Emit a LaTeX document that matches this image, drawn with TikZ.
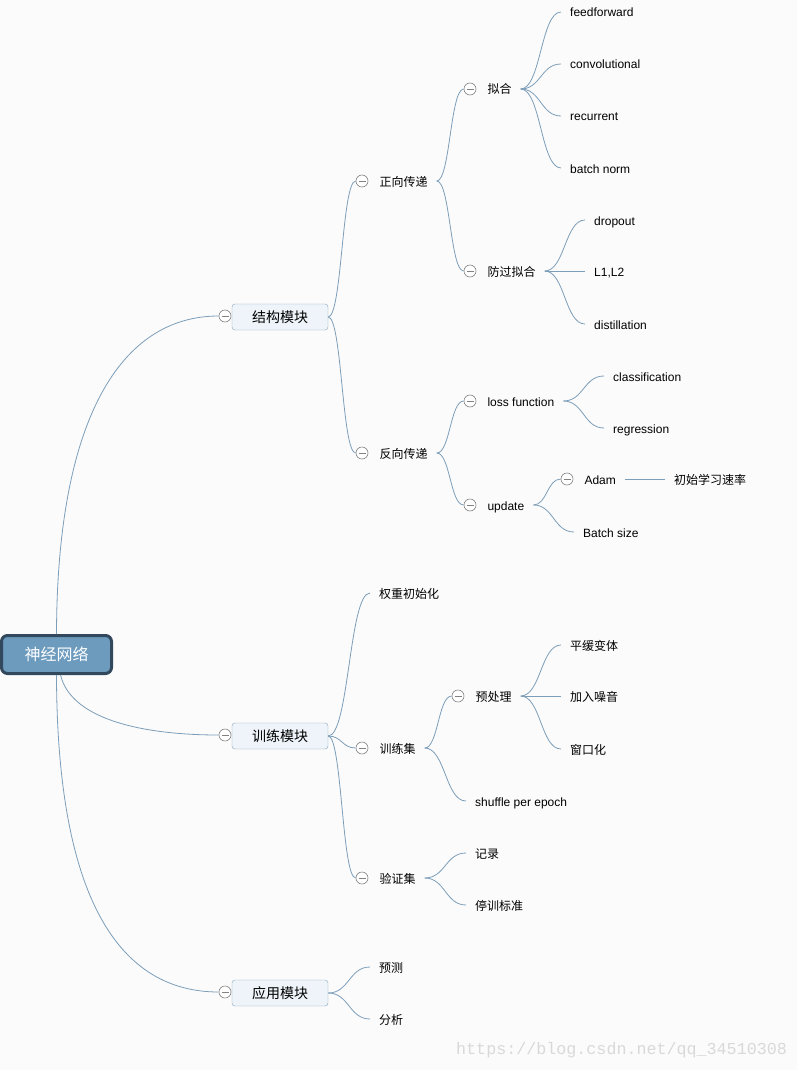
\documentclass[tikz,border=0pt]{standalone}
\usepackage{fontspec}
\setmainfont{Liberation Sans}
\newfontfamily\cjk{Noto Sans CJK SC}
\newfontfamily\wmfont{Liberation Mono}
\usetikzlibrary{positioning, calc}

\definecolor{branchblue}{RGB}{125,158,185}
\definecolor{rootfill}{RGB}{108,155,190}
\definecolor{rootline}{RGB}{50,72,92}
\definecolor{boxfill}{RGB}{238,244,249}
\definecolor{boxline}{RGB}{135,165,190}
\definecolor{foldgray}{RGB}{130,130,130}
\definecolor{bg}{RGB}{251,251,251}

% curved branch from one node to the next
\newcommand{\branchto}[2]{\draw[branch] let \p1=(#1), \p2=(#2) in
  (\p1) .. controls ({(\x1+\x2)/2},\y1) and ({(\x1+\x2)/2},\y2) .. (\p2);}

\begin{document}
\begin{tikzpicture}[x=1pt, y=-1pt,
    leaf/.style={anchor=west, inner xsep=9pt, inner ysep=1pt, text height=11pt, text depth=1pt, font=\fontsize{12}{14}\selectfont},
    topic/.style={draw=boxline, fill=boxfill, rounded corners=3pt, minimum width=96pt, minimum height=26pt, inner sep=0pt, text height=12pt, text depth=2pt, font=\cjk\fontsize{14}{16}\selectfont},
    fold/.style={circle, draw=foldgray, fill=white, line width=0.6pt, minimum size=12pt, inner sep=0pt,
      path picture={\draw[foldgray, line width=0.6pt] ([xshift=-3.5pt]path picture bounding box.center) -- ([xshift=3.5pt]path picture bounding box.center);}},
    branch/.style={draw=branchblue, line width=0.8pt},
  ]
  \fill[bg] (0,0) rectangle (797,1070);

  \node[draw=rootline, fill=rootfill, line width=3pt, rounded corners=6pt, minimum width=110pt, minimum height=38pt, text=white, font=\cjk\fontsize{16}{18}\selectfont] (root) at (56.5,654.5) {神经网络};

  % main topics
  \node[topic] (jg) at (280,317) {结构模块};
  \node[fold] (jgc) at (225,316) {};
  \node[topic] (xl) at (280,736) {训练模块};
  \node[fold] (xlc) at (225,735) {};
  \node[topic] (yy) at (280,993) {应用模块};
  \node[fold] (yyc) at (225,992) {};

  \draw[branch] (root.north) .. controls (57,420) and (120,316) .. (jgc.west);
  \draw[branch] ([xshift=4pt]root.south) .. controls (72,722) and (150,735) .. (xlc.west);
  \draw[branch] (root.south) .. controls (57,900) and (120,992) .. (yyc.west);

  % 结构模块
  \node[fold] (zxc) at (362,181) {};
  \node[leaf, right=2pt of zxc] (zx) {\cjk 正向传递};
  \node[fold] (fxc) at (362,453) {};
  \node[leaf, right=2pt of fxc] (fx) {\cjk 反向传递};
  \branchto{jg.east}{zxc.west}
  \branchto{jg.east}{fxc.west}

  \node[fold] (nhc) at (470,89) {};
  \node[leaf, right=2pt of nhc] (nh) {\cjk 拟合};
  \node[fold] (fgnhc) at (470,271) {};
  \node[leaf, right=2pt of fgnhc] (fgnh) {\cjk 防过拟合};
  \branchto{zx.east}{nhc.west}
  \branchto{zx.east}{fgnhc.west}

  \node[leaf] (ff) at (561,12) {feedforward};
  \node[leaf] (conv) at (561,64) {convolutional};
  \node[leaf] (rec) at (561,116) {recurrent};
  \node[leaf] (bn) at (561,168) {batch norm};
  \foreach \k in {ff,conv,rec,bn} {\branchto{nh.east}{\k.west}}

  \node[leaf] (drop) at (585,220) {dropout};
  \node[leaf] (l12) at (585,271) {L1,L2};
  \node[leaf] (dist) at (585,324) {distillation};
  \foreach \k in {drop,l12,dist} {\branchto{fgnh.east}{\k.west}}

  \node[fold] (lossc) at (470,401) {};
  \node[leaf, right=2pt of lossc] (loss) {loss function};
  \node[fold] (updc) at (470,505) {};
  \node[leaf, right=2pt of updc] (upd) {update};
  \branchto{fx.east}{lossc.west}
  \branchto{fx.east}{updc.west}

  \node[leaf] (cls) at (604,376) {classification};
  \node[leaf] (reg) at (604,428) {regression};
  \branchto{loss.east}{cls.west}
  \branchto{loss.east}{reg.west}

  \node[fold] (adamc) at (567,479) {};
  \node[leaf, right=2pt of adamc] (adam) {Adam};
  \node[leaf] (bs) at (574,532) {Batch size};
  \branchto{upd.east}{adamc.west}
  \branchto{upd.east}{bs.west}
  \node[leaf] (lr) at (665,479) {\cjk 初始学习速率};
  \draw[branch] (adam.east) -- (lr.west);

  % 训练模块
  \node[leaf] (qz) at (370,593) {\cjk 权重初始化};
  \node[fold] (xljc) at (362,748) {};
  \node[leaf, right=2pt of xljc] (xlj) {\cjk 训练集};
  \node[fold] (yzjc) at (362,878) {};
  \node[leaf, right=2pt of yzjc] (yzj) {\cjk 验证集};
  \branchto{xl.east}{qz.west}
  \branchto{xl.east}{xljc.west}
  \branchto{xl.east}{yzjc.west}

  \node[fold] (yclc) at (458,696) {};
  \node[leaf, right=2pt of yclc] (ycl) {\cjk 预处理};
  \node[leaf] (shuf) at (466,801) {shuffle per epoch};
  \branchto{xlj.east}{yclc.west}
  \branchto{xlj.east}{shuf.west}

  \node[leaf] (phbt) at (561,645) {\cjk 平缓变体};
  \node[leaf] (zy) at (561,696) {\cjk 加入噪音};
  \node[leaf] (ckh) at (561,749) {\cjk 窗口化};
  \foreach \k in {phbt,zy,ckh} {\branchto{ycl.east}{\k.west}}

  \node[leaf] (jl) at (466,853) {\cjk 记录};
  \node[leaf] (tx) at (466,905) {\cjk 停训标准};
  \branchto{yzj.east}{jl.west}
  \branchto{yzj.east}{tx.west}

  % 应用模块
  \node[leaf] (yc) at (370,967) {\cjk 预测};
  \node[leaf] (fenxi) at (370,1019) {\cjk 分析};
  \branchto{yy.east}{yc.west}
  \branchto{yy.east}{fenxi.west}

  \node[anchor=west, inner sep=0pt, text=black!15, font=\wmfont\fontsize{16.7}{17}\selectfont] (wm) at (456,1050) {https://blog.csdn.net/qq\_34510308};
\end{tikzpicture}
\end{document}
